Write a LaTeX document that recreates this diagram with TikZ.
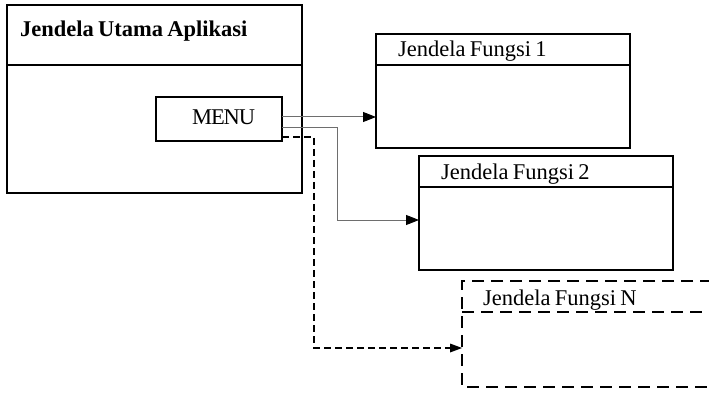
\documentclass[tikz,border=0pt]{standalone}
\usepackage{fontspec}
\setmainfont{Liberation Serif}[WordSpace=0.75]
\usetikzlibrary{arrows.meta}
\definecolor{linegray}{RGB}{110,110,110}
\tikzset{
  win/.style={draw=black, line width=2pt, rectangle, inner sep=0pt, outer sep=0pt},
  divider/.style={line width=2pt},
  ddivider/.style={line width=2pt, dash pattern=on 12pt off 7pt},
  lbl/.style={anchor=base west, inner sep=0pt, font=\fontsize{22.5}{26}\selectfont},
  conn/.style={draw=linegray, line width=1pt, -{Triangle[length=13pt,width=10pt,color=black]}},
  dconn/.style={draw=black, line width=2pt, dash pattern=on 7pt off 4pt, -{Triangle[length=12pt,width=9pt,color=black,line width=0pt]}}
}
\begin{document}
\begin{tikzpicture}[x=1pt,y=-1pt]
\useasboundingbox (0,0) rectangle (709,398);
% main window
\node[win, minimum width=295pt, minimum height=188pt] (main) at (154.5,99) {};
\draw[divider] (main.west |- 0,65) -- (main.east |- 0,65);
\node[lbl, font=\fontsize{22.5}{26}\selectfont\bfseries] (maintitle) at (20,37) {Jendela Utama Aplikasi};
% menu
\node[win, minimum width=126pt, minimum height=44pt] (menu) at (219,119) {};
\node[lbl, font=\fontsize{22.5}{26}\selectfont\addfontfeature{LetterSpace=-5}] (menutext) at (192,125) {MENU};
% box 1
\node[win, minimum width=254pt, minimum height=114pt] (box1) at (503,91) {};
\draw[divider] (box1.west |- 0,65) -- (box1.east |- 0,65);
\node[lbl] (t1) at (398,57) {Jendela Fungsi 1};
% box 2
\node[win, minimum width=254pt, minimum height=114pt] (box2) at (546,213) {};
\draw[divider] (box2.west |- 0,187) -- (box2.east |- 0,187);
\node[lbl] (t2) at (441,179) {Jendela Fungsi 2};
% box N (cut off at right)
\coordinate (nTL) at (462,281);
\coordinate (nBL) at (462,387);
\coordinate (nTR) at (712,281);
\coordinate (nBR) at (712,387);
\coordinate (boxNwest) at (462,348);
\draw[ddivider] (nTR) -- (nTL) -- (nBL) -- (nBR);
\draw[ddivider] (nTL |- 0,312) -- (nTR |- 0,312);
\node[lbl] (tN) at (483,305) {Jendela Fungsi N};
% connectors
\draw[conn] ([yshift=2pt]menu.east) -- ([yshift=2pt]menu.east -| box1.west);
\coordinate (k2) at (337,220);
\draw[conn] ([yshift=-9pt]menu.east) -| (k2) -- (k2 -| box2.west);
\coordinate (k3) at (314,348);
\draw[dconn] ([yshift=-18pt]menu.east) -| (k3) -- (boxNwest);
\end{tikzpicture}
\end{document}
